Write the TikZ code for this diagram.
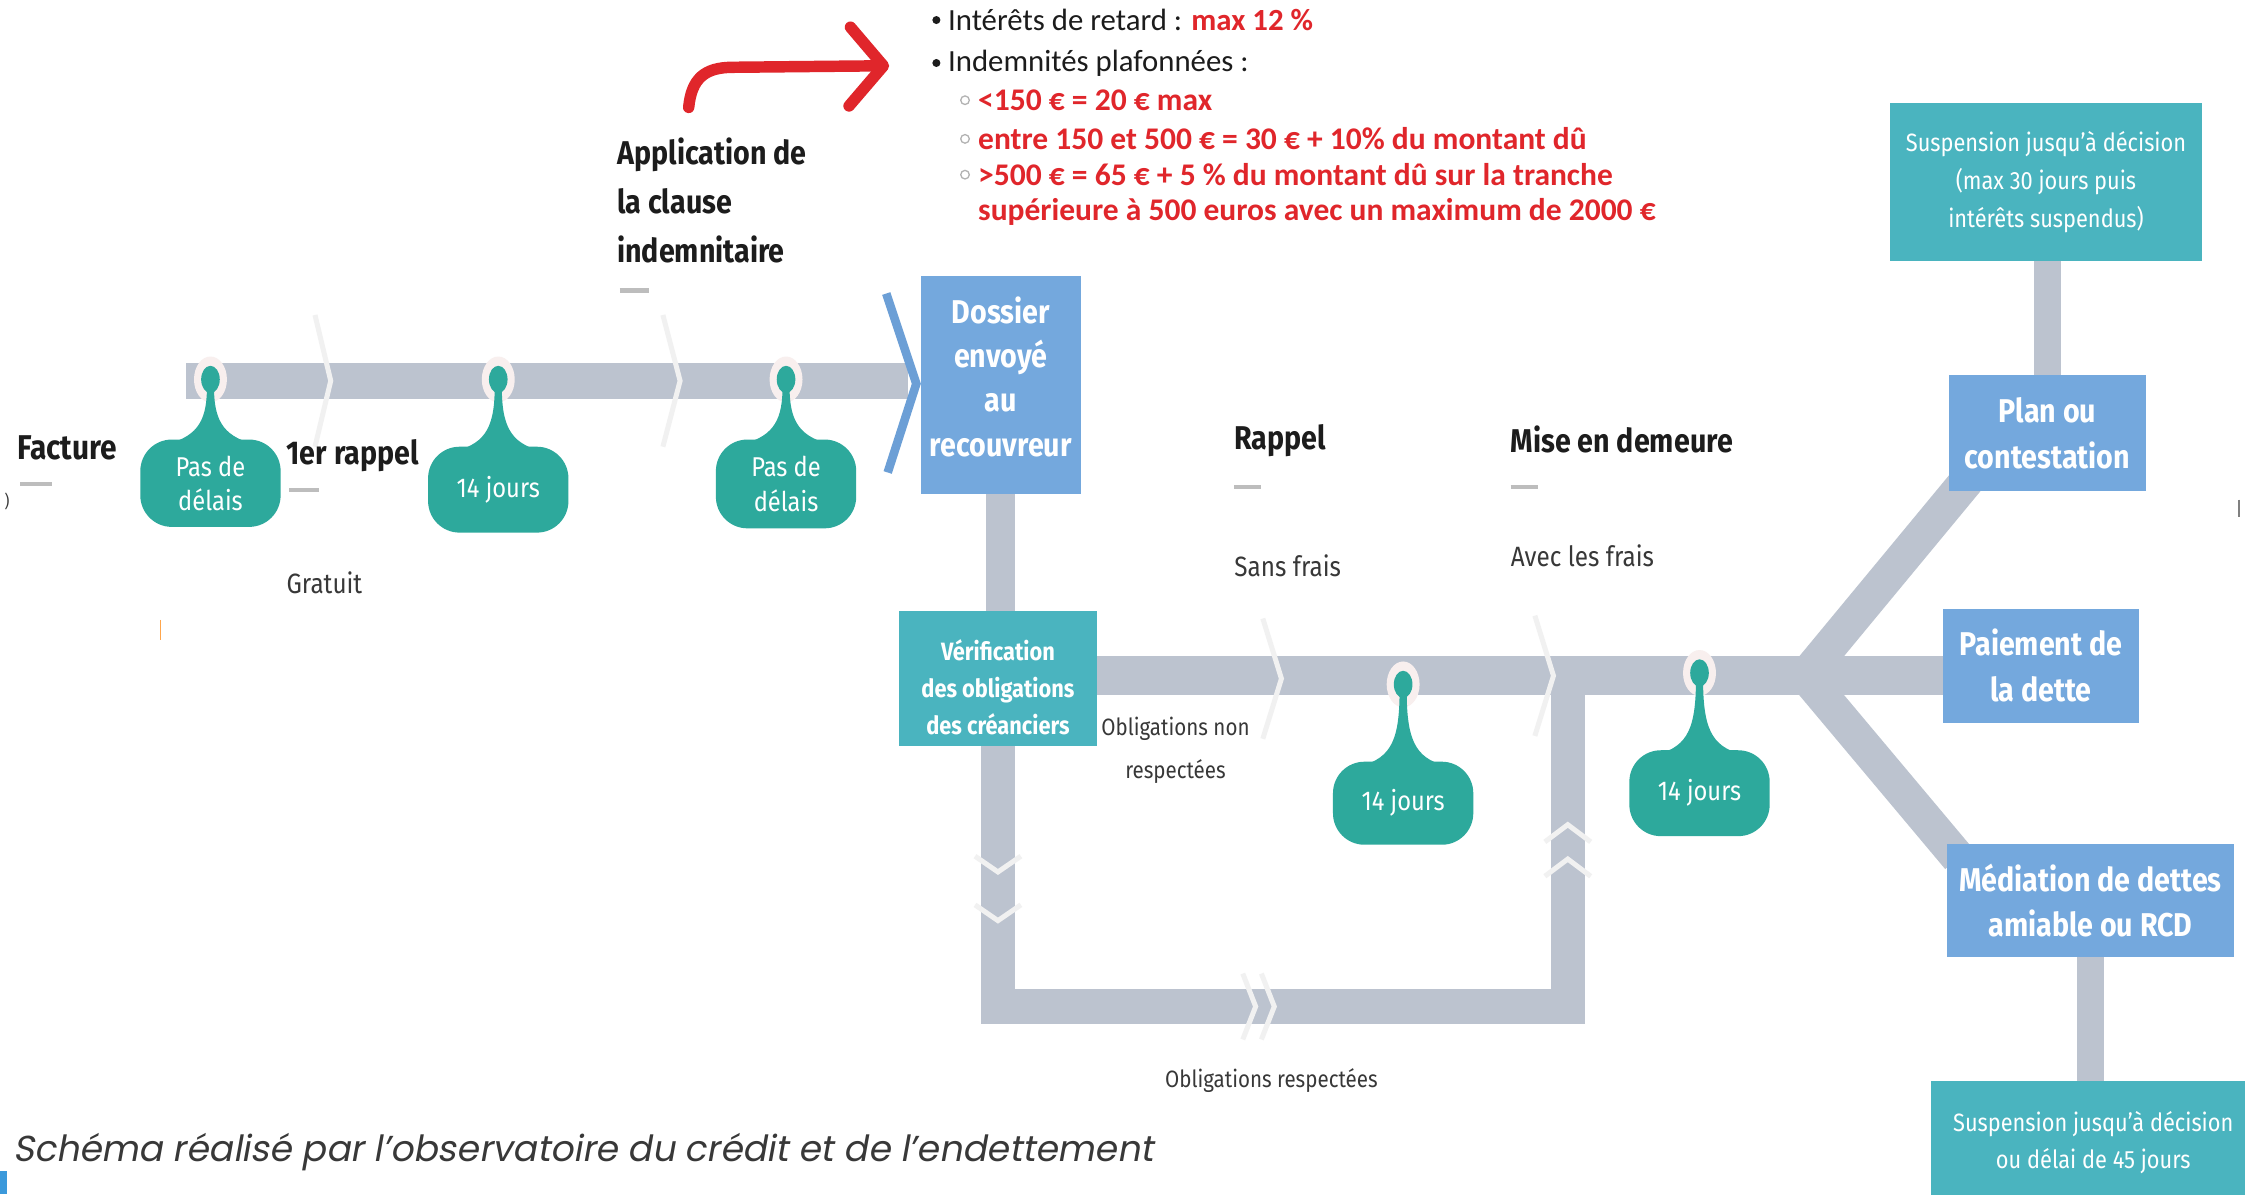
\documentclass[tikz,border=0pt]{standalone}
\usepackage{fontspec}
\setmainfont{Fira Sans}[FakeStretch=0.87]
\newfontfamily\bulletfont{Carlito}
\newfontfamily\capfont{Poppins}[FakeSlant=0.18]
\usetikzlibrary{calc}
\definecolor{barc}{HTML}{BCC3CF}
\definecolor{tealpin}{HTML}{2DA99C}
\definecolor{tealbox}{HTML}{4AB4BF}
\definecolor{bluebox}{HTML}{74A8DD}
\definecolor{bluechev}{HTML}{6C9FD6}
\definecolor{redt}{HTML}{E0262B}
\definecolor{txt}{HTML}{1C1C1C}
\definecolor{txtg}{HTML}{383838}
\definecolor{chevc}{HTML}{F1F1F1}
\definecolor{dashc}{HTML}{BDBDBD}
\definecolor{haloc}{HTML}{F8EFEE}
\newcommand\mypin[6]{%
  \fill[haloc] (#2,#3) ellipse [x radius=11.5, y radius=16];
  \fill[tealpin] (#2,#3) ellipse [x radius=6.5, y radius=9.5];
  \fill[tealpin] (#2-2.5,#3+8) .. controls (#2-3,#4-12) and (#2-10,#4-1) .. (#2-34,#4+4) -- (#2+34,#4+4) .. controls (#2+10,#4-1) and (#2+3,#4-12) .. (#2+2.5,#3+8) -- cycle;
  \pgfmathsetmacro\pinh{#5-#4}%
  \node[bubble, minimum height=\pinh pt] (#1) at (#2,{(#4+#5)/2}) {#6};
}
\tikzset{
  gbar/.style={draw=barc, line width=25pt},
  vbar/.style={draw=barc, line width=20pt},
  slimbar/.style={draw=barc, line width=19pt},
  chevr/.style={draw=chevc, line width=3.5pt},
  bxblue/.style={fill=bluebox, text=white, inner sep=0pt, align=center, font=\bfseries\fontsize{23}{32}\selectfont},
  bxteal/.style={fill=tealbox, text=white, inner sep=0pt, align=center},
  bubble/.style={fill=tealpin, text=white, rounded corners=22pt, inner sep=0pt, minimum width=98pt, align=center, font=\fontsize{19}{24}\selectfont},
  lbl/.style={anchor=west, inner sep=0pt, text=txt, font=\bfseries\fontsize{23}{34}\selectfont},
  sublbl/.style={anchor=west, inner sep=0pt, text=txtg, font=\fontsize{19.5}{24}\selectfont},
  smalltxt/.style={inner sep=0pt, text=txtg, align=center, font=\fontsize{16.5}{30}\selectfont},
  ldash/.style={draw=dashc, line width=3pt},
  blt/.style={anchor=west, inner sep=0pt, text=txt, font=\bulletfont\fontsize{21.5}{24}\selectfont},
  bltred/.style={blt, text=redt, font=\bulletfont\bfseries\fontsize{22}{24}\selectfont},
}
\begin{document}
\begin{tikzpicture}[x=1pt,y=-1pt]
\useasboundingbox (0,0) rectangle (1568,834);
\fill[white] (0,0) rectangle (1568,834);

% bars
\coordinate (tstart) at (130,266);
\coordinate (ttip) at (634,266);
\draw[gbar] (tstart) -- (ttip);

\path (699,269) node[bxblue, minimum width=112pt, minimum height=152pt] (dossier) {};
\path (697,474) node[bxteal, minimum width=138pt, minimum height=94pt] (verif) {};
\path (1430,302.5) node[bxblue, minimum width=138pt, minimum height=81pt] (plan) {};
\path (1425.5,465) node[bxblue, minimum width=137pt, minimum height=80pt] (paie) {};
\path (1460,629) node[bxblue, minimum width=200pt, minimum height=79pt] (med) {};
\path (1429,127) node[bxteal, minimum width=218pt, minimum height=110pt] (susp1) {};
\path (1462,796) node[bxteal, minimum width=226pt, minimum height=82pt] (susp2) {};

\draw[vbar] (dossier.south) -- (dossier.south |- verif.north);
\draw[gbar, line width=27pt] ([yshift=2pt]verif.east) -- ([yshift=2pt]verif.east -| paie.west);
\coordinate (rj) at (1095,703);
\draw[gbar, line width=24pt, line join=miter] (verif.south) |- (rj) -- ([yshift=2pt]rj |- verif.east);
\coordinate (br) at (1261,472);
\draw[gbar, line width=24pt] (br) -- ($(plan.south west)+(15,-10)$);
\draw[gbar, line width=24pt] (br) -- ($(med.north west)+(8,10)$);
\draw[slimbar] (plan.north) -- (plan.north |- susp1.south);
\draw[slimbar] (med.south) -- (med.south |- susp2.north);

% chevrons
\draw[chevr] (220,220) -- (231,266) -- (220,312);
\draw[chevr] (463,220) -- (475,266) -- (463,312);
\draw[chevr] (882,432) -- (895,474) -- (882,516);
\draw[chevr] (1072,430) -- (1085,472) -- (1072,514);
\draw[chevr] (681,598) -- (697,609) -- (713,598);
\draw[chevr] (681,632) -- (697,643) -- (713,632);
\draw[chevr] (1079,588) -- (1095,576) -- (1111,588);
\draw[chevr] (1079,612) -- (1095,600) -- (1111,612);
\draw[chevr] (868,680) -- (877,703) -- (868,726);
\draw[chevr] (881,680) -- (890,703) -- (881,726);
\draw[bluechev, line width=6pt, line join=miter] (619,205) -- (640,268) -- (620,330);

% boxes with text
\node[bxblue, minimum width=112pt, minimum height=152pt] at (dossier) {};
\node[text=white, align=center, inner sep=0pt, font=\bfseries\fontsize{23}{31}\selectfont, yshift=6pt] (dossiert) at (dossier) {Dossier\\envoyé\\au\\recouvreur};
\node[bxteal, minimum width=138pt, minimum height=94pt] at (verif) {};
\node[text=white, align=center, inner sep=0pt, font=\bfseries\fontsize{17.5}{26}\selectfont, yshift=-6pt] (veriftt) at (verif) {Vérification\\des obligations\\des créanciers};
\node[bxblue, minimum width=138pt, minimum height=81pt] at (plan) {Plan ou\\contestation};
\node[bxblue, minimum width=137pt, minimum height=80pt] at (paie) {Paiement de\\la dette};
\node[bxblue, minimum width=200pt, minimum height=79pt] at (med) {Médiation de dettes\\amiable ou RCD};
\node[bxteal, minimum width=218pt, minimum height=110pt, font=\fontsize{17.5}{26.5}\selectfont] at (susp1) {Suspension jusqu’à décision\\(max 30 jours puis\\intérêts suspendus)};
\node[text=white, align=center, inner sep=0pt, font=\fontsize{17.5}{26}\selectfont] (susp2t) at (1462,798) {Suspension jusqu’à décision\\ou délai de 45 jours};

% pins
\mypin{p1}{147}{265}{307}{368}{Pas de\\délais}
\mypin{p2}{348}{265}{312}{372}{14 jours}
\mypin{p3}{549}{265}{307}{369}{Pas de\\délais}
\mypin{p4}{980}{478}{532}{590}{14 jours}
\mypin{p5}{1187}{470}{524}{584}{14 jours}

% labels
\node[lbl, font=\bfseries\fontsize{24}{34}\selectfont] (facture) at (12,313) {Facture};
\draw[ldash] (14,338) -- (36,338);
\node[inner sep=0pt, text=txtg, font=\fontsize{12}{12}\selectfont] (paren) at (5,350) {)};
\node[lbl] (rappel1) at (200,318) {1er rappel};
\draw[ldash] (202,342) -- (223,342);
\node[sublbl] (gratuit) at (200,407) {Gratuit};
\draw[orange!70, line width=1pt] (112,433) -- (112,447);
\node[lbl, align=left] (appli) at (431,140) {Application de\\la clause\\indemnitaire};
\draw[ldash] (433,203) -- (453,203);
\node[lbl] (rappel) at (862,308) {Rappel};
\draw[ldash] (862,340) -- (881,340);
\node[sublbl] (sansfrais) at (862,395) {Sans frais};
\node[lbl] (mise) at (1055,307) {Mise en demeure};
\draw[ldash] (1055,340) -- (1074,340);
\node[sublbl] (avecfrais) at (1055,388) {Avec les frais};
\node[smalltxt] (onr) at (821,524) {Obligations non\\respectées};
\node[smalltxt] (or) at (888,755) {Obligations respectées};

% red arrow
\draw[redt, line width=8pt, line cap=round] (481,75) .. controls (483,55) and (492,47) .. (512,47) -- (612,46);
\draw[redt, line width=8pt, line cap=round, line join=round] (594,19) -- (617,46) -- (593,74);

% bullet list
\fill[txt] (654,14) circle (2.8);
\node[blt] (b1) at (662,14) {Intérêts de retard : \textcolor{redt}{\bfseries max 12 \%}};
\fill[txt] (654,44) circle (2.8);
\node[blt] (b2) at (662,44) {Indemnités plafonnées :};
\draw[gray!60, line width=0.9pt] (674,70) circle (3);
\node[bltred] (b3) at (683,70) {<150 € = 20 € max};
\draw[gray!60, line width=0.9pt] (674,97) circle (3);
\node[bltred] (b4) at (683,97) {entre 150 et 500 € = 30 € + 10\% du montant dû};
\draw[gray!60, line width=0.9pt] (674,122) circle (3);
\node[bltred] (b5) at (683,122) {>500 € = 65 € + 5 \% du montant dû sur la tranche};
\node[bltred] (b6) at (683,148) {supérieure à 500 euros avec un maximum de 2000 €};

% caption and marks
\node[anchor=west, inner sep=0pt, text=txtg, font=\capfont\fontsize{25.2}{30}\selectfont] (cap) at (9,805) {Schéma réalisé par l’observatoire du crédit et de l’endettement};
\fill[cyan!70!blue!80] (0,818) rectangle (5,834);
\draw[gray, line width=1.5pt] (1564,349) -- (1564,361);
\end{tikzpicture}
\end{document}
